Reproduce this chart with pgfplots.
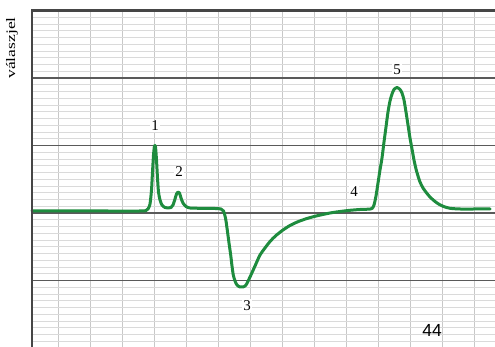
\documentclass[border=0pt]{standalone}
\usepackage{fontspec}
\setmainfont{Liberation Serif}
\newfontfamily\arialfont{Liberation Sans}
\usepackage{pgfplots}
\pgfplotsset{compat=1.18}
\definecolor{curvegreen}{RGB}{30,140,62}
\definecolor{majorline}{RGB}{90,90,90}
\definecolor{borderline}{RGB}{70,70,70}
\definecolor{vgrid}{RGB}{200,200,200}
\definecolor{mgrid}{RGB}{218,218,218}
\begin{document}
\begin{tikzpicture}
\begin{axis}[
  scale only axis,
  width=463pt, height=337.5pt,
  xmin=32, xmax=495, ymin=-348, ymax=-10.5,
  axis line style={draw=none},
  major tick length=0pt, minor tick length=0pt,
  xtick={58,90,122,154,186,218,250,282,314,346,378,410,442,474},
  ytick={-348,-280.5,-213,-145.5,-78,-10.5},
  minor y tick num=9,
  xticklabels={}, yticklabels={},
  xmajorgrids, ymajorgrids, yminorgrids,
  major x grid style={draw=vgrid, line width=0.9pt},
  major y grid style={draw=majorline, line width=1.8pt},
  minor y grid style={draw=mgrid, line width=0.9pt},
  clip=false,
]
\addplot[curvegreen, line width=3pt, smooth, tension=0.45, line join=round, line cap=round] coordinates {
(32,-211) (100,-211) (140,-211) (146,-210.5) (148,-209) (150,-204) (151.5,-190) (152.5,-172) (153.5,-155) (154.5,-146) (155.5,-147) (156.5,-160) (157.5,-178) (158.5,-192) (160,-200) (162,-205) (165,-207.5) (168,-208) (171,-207.5) (173,-205) (175,-199) (176.5,-194) (178,-192) (179.5,-193) (181,-198) (183,-203) (186,-206.5) (190,-208) (200,-208.3) (215,-208.5) (221,-209) (223.5,-211) (225.5,-218) (227,-228) (229,-243) (230.7,-255) (232,-266) (233.3,-275) (235,-281) (237,-285) (240,-287) (243,-287) (246,-285) (250,-277) (255,-266) (260,-255) (265,-248) (270,-241.5) (276,-235.5) (283,-230) (290,-225.5) (298,-221.7) (307,-218.5) (317,-215.8) (330,-213) (340,-211.5) (350,-210.3) (360,-209.5) (368,-209.2) (372,-208.5) (374,-205) (376,-196) (378,-183) (380,-170) (382,-158) (384,-142) (386,-127) (388,-112) (390,-101) (392,-94) (394,-89.5) (397,-87.5) (400,-89.5) (402,-93) (404,-100) (406,-112) (408,-125) (410,-138) (412,-149) (414,-160) (416,-169) (418,-176) (420,-182) (423,-188) (427,-193.5) (431,-198) (437,-203) (443,-206.3) (450,-208.3) (460,-209) (475,-209) (490,-209)
};
\draw[borderline, line width=2.4pt] (axis cs:32,-350) -- (axis cs:32,-10.5) -- (axis cs:495,-10.5);
\begin{scope}[every node/.style={fill=white, inner sep=1.5pt, font=\fontsize{15}{17}\selectfont}]
\node at (axis cs:155,-126) {1};
\node at (axis cs:179,-172) {2};
\node at (axis cs:247,-306) {3};
\node at (axis cs:354,-192) {4};
\node at (axis cs:397,-70) {5};
\end{scope}
\node[font=\arialfont\fontsize{17.5}{19}\selectfont, inner sep=0pt] at (axis cs:432,-330) {44};
\node[rotate=90, inner sep=0pt, font=\fontsize{13}{14}\selectfont] at (axis cs:12,-48) {\scalebox{1.35}[1]{válaszjel}};
\coordinate (bbtl) at (axis cs:0,0);
\coordinate (bbbr) at (axis cs:495,-347);
\end{axis}
\pgfresetboundingbox
\path (bbtl) rectangle (bbbr);
\end{tikzpicture}
\end{document}
